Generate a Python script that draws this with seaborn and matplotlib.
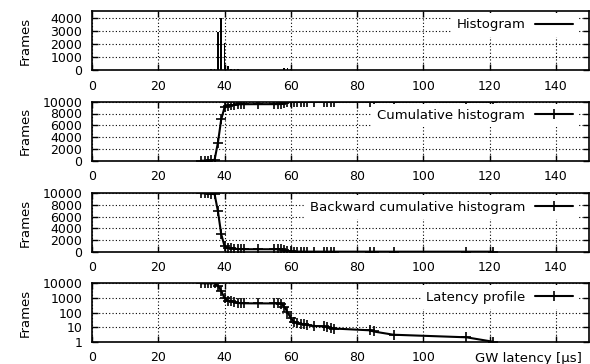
#!/usr/bin/env python3
import seaborn as sns
import matplotlib.pyplot as plt
from matplotlib.lines import Line2D
from matplotlib.ticker import FixedLocator, LogLocator, NullFormatter, FixedFormatter
import numpy as np

# latency bins [us] that hold frames
latency = [33, 34, 35, 36, 37, 38, 39, 40, 41, 42, 43, 44, 45, 46, 50, 55, 56, 57, 58,
           59, 60, 61, 62, 63, 64, 65, 67, 70, 71, 72, 73, 84, 85, 91, 113, 121]
# frames per bin
hist_counts = [2, 3, 10, 55, 80, 2900, 3950, 2050, 300, 50, 80, 70, 20, 5, 5, 3, 4, 8, 150,
               150, 65, 18, 4, 2, 1, 2, 2, 1, 1, 1, 1, 2, 1, 2, 1, 1]
# cumulative histogram
cumulative = [2, 5, 15, 70, 150, 3050, 7000, 9050, 9350, 9400, 9480, 9550, 9570, 9575, 9580,
              9583, 9587, 9595, 9745, 9895, 9960, 9978, 9982, 9984, 9985, 9987, 9989, 9990,
              9991, 9992, 9993, 9995, 9996, 9998, 9999, 10000]
# backward cumulative histogram (also the latency profile)
backward = [9999, 9996, 9986, 9931, 9851, 6951, 3001, 951, 651, 601, 521, 451, 431, 426, 421,
            418, 414, 406, 256, 106, 41, 23, 19, 17, 16, 14, 12, 11, 10, 9, 8, 6, 5, 3, 2, 1]

x_ticks = [0, 20, 40, 60, 80, 100, 120, 140]
legend_labels = ["Histogram", "Cumulative histogram", "Backward cumulative histogram", "Latency profile"]

sns.set_style("ticks")
plt.rcParams['font.family'] = ['DejaVu Sans']
plt.rcParams['font.size'] = 9
plt.rcParams['axes.linewidth'] = 1.2
for k in ['text.color', 'axes.labelcolor', 'xtick.color', 'ytick.color', 'axes.edgecolor']:
        plt.rcParams[k] = 'black'

fig = plt.figure(figsize=(5.9, 3.64), dpi=100)
left, width = 92 / 590, 497 / 590
boxes = [(70.0, 59.0), (160.7, 59.0), (251.7, 58.4), (341.7, 58.4)]
axes = [fig.add_axes([left, 1 - b / 364, width, h / 364]) for b, h in boxes]

grid_kw = dict(color='black', linestyle=(0, (1, 2)), linewidth=0.8)
line_kw = dict(color='black', linewidth=1.5, marker='+', markersize=7, markeredgewidth=1.2)

# histogram
sns.histplot(x=latency, weights=hist_counts, discrete=True, shrink=0.5, color='black',
             alpha=1, edgecolor='none', ax=axes[0])
axes[0].set_ylim(0, 4500)
axes[0].set_yticks([0, 1000, 2000, 3000, 4000])

axes[1].plot(latency, cumulative, linestyle='-', **line_kw)
axes[1].set_ylim(0, 10000)
axes[1].set_yticks(range(0, 10001, 2000))

axes[2].plot(latency, backward, linestyle='-', **line_kw)
axes[2].set_ylim(0, 10000)
axes[2].set_yticks(range(0, 10001, 2000))

axes[3].plot(latency, backward, linestyle='-', **line_kw)
axes[3].set_yscale('log')
axes[3].set_ylim(1, 10000)
axes[3].yaxis.set_major_locator(FixedLocator([1, 10, 100, 1000, 10000]))
axes[3].yaxis.set_major_formatter(FixedFormatter(['1', '10', '100', '1000', '10000']))
axes[3].yaxis.set_minor_locator(LogLocator(base=10, subs=np.arange(2, 10)))
axes[3].yaxis.set_minor_formatter(NullFormatter())
axes[3].grid(True, which='minor', axis='y', **grid_kw)

for i, ax in enumerate(axes):
        ax.set_xlim(0, 150)
        ax.set_xticks(x_ticks)
        ax.grid(True, which='major', **grid_kw)
        ax.set_axisbelow(True)
        ax.tick_params(direction='in', top=True, right=True, length=4.5, width=1, labelsize=9)
        ax.tick_params(which='minor', direction='in', right=True, length=2.5, width=0.8)
        ax.tick_params(axis='x', pad=7)
        ax.tick_params(axis='y', pad=7)
        ax.set_xlabel('')
        ax.set_ylabel('Frames', fontsize=9.5)
        ax.yaxis.set_label_coords(-0.122, 0.5)
        for s in ax.spines.values():
                s.set_visible(True)
        if i == 0:
                h = Line2D([], [], color='black', linewidth=1.5)
        else:
                h = Line2D([], [], **line_kw)
        leg = ax.legend([h], [legend_labels[i]], loc='upper right', bbox_to_anchor=(0.978, 0.966),
                        borderaxespad=0, borderpad=0.4, markerfirst=False, frameon=True,
                        fancybox=False, framealpha=1, handlelength=2.9, handletextpad=0.7,
                        fontsize=9.5)
        leg.get_frame().set_facecolor('white')
        leg.get_frame().set_edgecolor('none')

# bottom panel: x label sits where the last tick labels would be
axes[3].set_xticklabels(['0', '20', '40', '60', '80', '100', '', ''])
axes[3].text(0.986, -0.28, 'GW latency [µs]', transform=axes[3].transAxes, ha='right',
             va='center', fontsize=9.5)

plt.savefig('out.png', dpi=100)
